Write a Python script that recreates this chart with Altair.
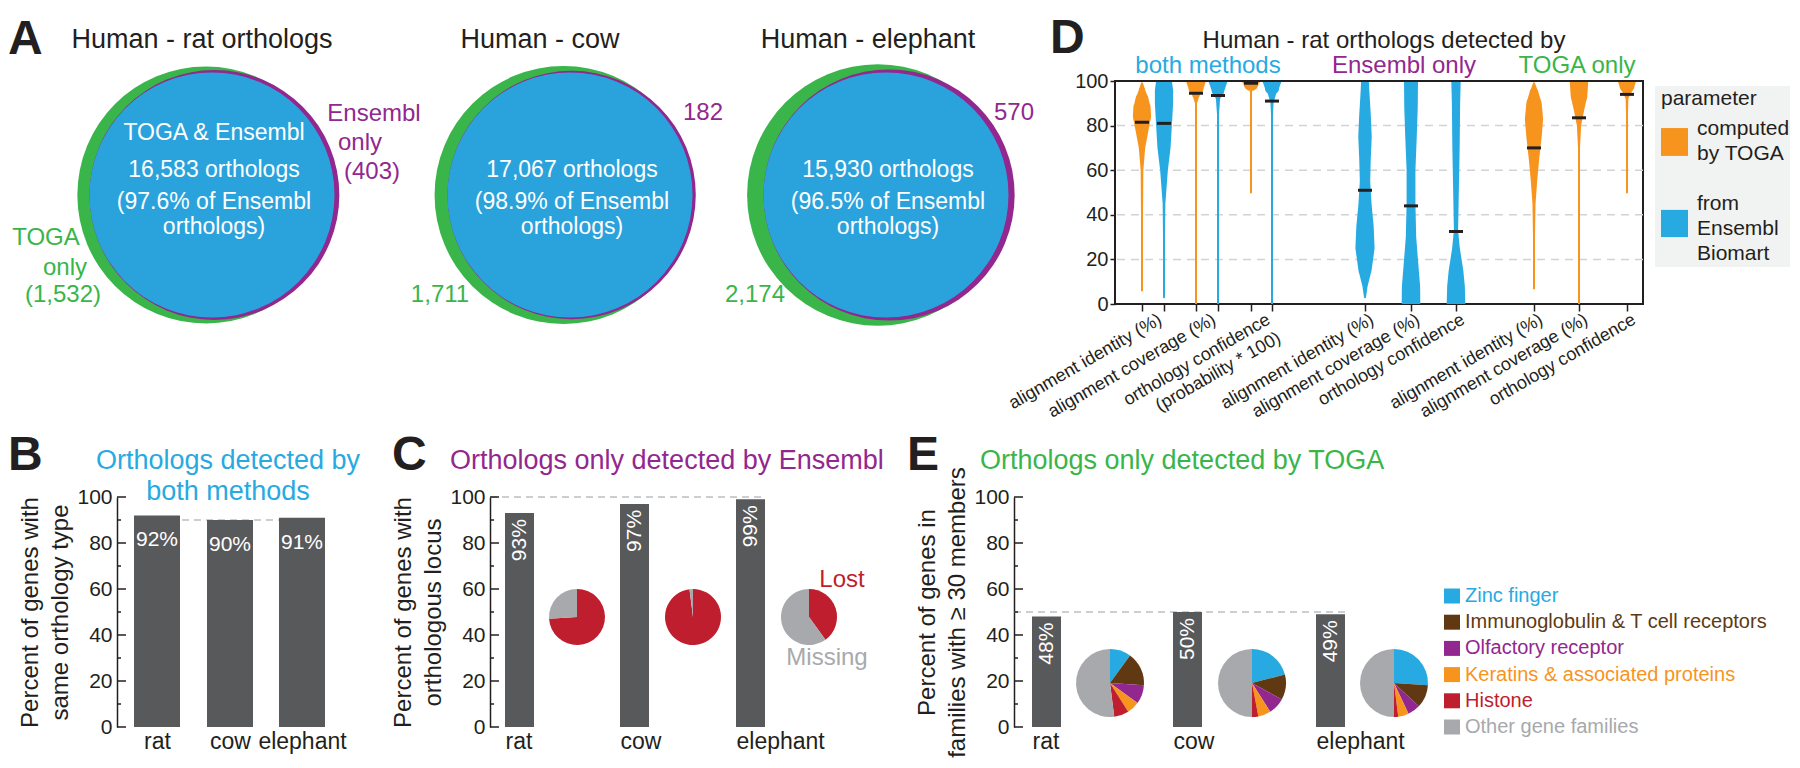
import altair as alt
import numpy as np
import pandas as pd

FONT = "Liberation Sans"
BLACK = "#231F20"
BLUE = "#27AAE1"
VENN_BLUE = "#2AA3DC"
GREEN = "#39B54A"
PURPLE = "#92278F"
ORANGE = "#F7941D"
RED = "#BE1E2D"
GREY = "#A7A9AC"
BAR = "#58595B"
BROWN = "#603913"
DASH = "#BCBEC0"

# ---------------- data ----------------
species = ["rat", "cow", "elephant"]
both_counts = [16583, 17067, 15930]
ensembl_only_counts = [403, 182, 570]
toga_only_counts = [1532, 1711, 2174]
pct_of_ensembl = ["97.6", "98.9", "96.5"]

same_type_pct = [92, 90, 91]
same_type_ref = 90
locus_pct = [93, 97, 99]
locus_ref = 100
lost_pct = [74, 98, 40]
family_pct = [48, 50, 49]
family_ref = 50
families = ["Zinc finger", "Immunoglobulin & T cell receptors", "Olfactory receptor",
            "Keratins & associated proteins", "Histone", "Other gene families"]
family_colors = [BLUE, BROWN, PURPLE, ORANGE, RED, GREY]
family_share_rat = [10, 16, 9, 6, 7, 52]
family_share_cow = [21, 12, 8, 6, 3, 50]
family_share_elephant = [26, 11, 6, 5, 2, 50]

d_sections = ["both methods", "Ensembl only", "TOGA only"]
d_section_colors = [BLUE, PURPLE, GREEN]
d_source = ["TOGA", "Ensembl", "TOGA", "Ensembl", "TOGA", "Ensembl",
            "Ensembl", "Ensembl", "Ensembl", "TOGA", "TOGA", "TOGA"]
d_median = [81.5, 81, 94.5, 93.5, 99, 91, 51, 44, 32.5, 70, 83.5, 94]
violin_y = [
    [6, 40, 60, 70, 78, 84, 88, 92, 96, 99],
    [3, 30, 45, 60, 70, 80, 90, 96, 100],
    [0, 80, 90, 94, 97, 100],
    [0, 85, 92, 96, 100],
    [50, 95, 98, 99, 100],
    [0, 85, 90, 94, 97, 100],
    [3, 8, 15, 25, 35, 45, 55, 65, 75, 85, 95, 100],
    [0, 8, 18, 30, 45, 60, 75, 88, 100],
    [0, 8, 15, 25, 33, 45, 70, 90, 100],
    [7, 30, 45, 55, 65, 75, 83, 90, 95, 99],
    [0, 50, 70, 80, 87, 93, 100],
    [50, 85, 92, 96, 98, 100],
]
violin_w = [
    [.05, .06, .14, .33, .68, .95, .9, .68, .33, .05],
    [.05, .05, .14, .4, .68, .82, .95, .95, .82],
    [.05, .05, .1, .4, .8, 1.05],
    [.05, .06, .22, .68, 1.0],
    [.05, .05, .27, .8, 1.1],
    [.05, .06, .16, .4, .75, 1.0],
    [0, .27, .68, 1.0, .9, .68, .54, .6, .7, .6, .46, .4],
    [.97, .95, .76, .54, .46, .46, .6, .7, .73],
    [.97, .92, .76, .4, .22, .27, .38, .43, .49],
    [.05, .06, .16, .33, .54, .8, .95, .8, .46, .05],
    [.05, .05, .08, .22, .54, .86, .97],
    [.05, .05, .14, .54, .8, .97],
]
d_labels = ["alignment identity (%)", "alignment coverage (%)", "orthology confidence\n(probability * 100)",
            "alignment identity (%)", "alignment coverage (%)", "orthology confidence",
            "alignment identity (%)", "alignment coverage (%)", "orthology confidence"]
d_legend = ["computed\nby TOGA", "from\nEnsembl\nBiomart"]

# ---------------- helpers ----------------
H1 = 223
H2 = 230
LETTER = 48
NOFRAME = alt.ViewBackground(stroke="transparent", strokeWidth=0)


def text_layer(rows, xs, ys, align="center", baseline="middle", weight="normal", angle=0, line_height=None,
               xa=None, ya=None):
    df = pd.DataFrame(rows, columns=["x", "y", "t", "c", "s"])
    kw = dict(font=FONT, align=align, baseline=baseline, fontWeight=weight, angle=angle, lineBreak="\n")
    if line_height:
        kw["lineHeight"] = line_height
    return alt.Chart(df).mark_text(**kw).encode(
        x=alt.X("x:Q", scale=xs, axis=xa),
        y=alt.Y("y:Q", scale=ys, axis=ya),
        text="t:N",
        color=alt.Color("c:N", scale=None),
        size=alt.Size("s:Q", scale=None, legend=None),
    )


def y_axis(title):
    return alt.Axis(values=list(range(0, 101, 20)), tickSize=0, domain=True, domainColor=BLACK,
                    domainWidth=1.5, labelFontSize=21, labelPadding=5, labelColor=BLACK, labelFont=FONT,
                    grid=False, title=title, titleFont=FONT, titleFontSize=24, titleFontWeight="normal",
                    titleColor=BLACK, titlePadding=4, titleLineHeight=30)


def x_axis(values, names, align):
    expr = " : ".join(f"abs(datum.value - {v}) < 0.5 ? '{n}'" for v, n in zip(values, names)) + " : ''"
    return alt.Axis(values=values, labelExpr=expr, domain=False, ticks=False, grid=False, labelFontSize=23,
                    labelFont=FONT, labelColor=BLACK, labelAlign=align, labelBaseline="top", labelPadding=3,
                    labelFlush=False, labelOverlap=False, title=None)


def inner_ticks(xs, ys, xa, ya):
    df = pd.DataFrame({"v": list(range(0, 101, 10))})
    df["x0"] = 0
    df["x1"] = np.where(df["v"] % 20 == 0, 9, 4)
    return alt.Chart(df).mark_rule(color=BLACK, strokeWidth=1.5).encode(
        x=alt.X("x0:Q", scale=xs, axis=xa), x2="x1:Q", y=alt.Y("v:Q", scale=ys, axis=ya))


def up2(px):
    return 100 + px * 100.0 / H2


def v2(page_y):
    # value on the lower-row scales for a page position measured on the reference (plot bottom ~726)
    return (726 - page_y) * 100.0 / H2


# ================= Panel A =================
A_W = 988
A_TOP = 76
A_LEFT = 117
ax = alt.Scale(domain=[0, A_W], nice=False, zero=False)
ay = alt.Scale(domain=[0, H1], nice=False, zero=False)


def a_y(page_y):
    return A_TOP + H1 - page_y


def a_x(page_x):
    return page_x - A_LEFT


venn_x = [a_x(212), a_x(570), a_x(886)]
venn_y = a_y(190)
DB = 245
vrows = []
for i, sp in enumerate(species):
    g = 2 + 120 * toga_only_counts[i] / (toga_only_counts[i] + both_counts[i])
    p = 2 + 120 * ensembl_only_counts[i] / (ensembl_only_counts[i] + both_counts[i])
    vrows += [
        {"z": 0, "x": venn_x[i] - g / 2, "y": venn_y, "d2": (DB + g) ** 2, "c": GREEN},
        {"z": 1, "x": venn_x[i] + p / 2, "y": venn_y, "d2": (DB + p) ** 2, "c": PURPLE},
        {"z": 2, "x": venn_x[i], "y": venn_y, "d2": DB ** 2, "c": VENN_BLUE},
    ]
venn = alt.Chart(pd.DataFrame(vrows)).mark_circle(opacity=1).encode(
    x=alt.X("x:Q", scale=ax, axis=None),
    y=alt.Y("y:Q", scale=ay, axis=None),
    size=alt.Size("d2:Q", scale=None, legend=None),
    color=alt.Color("c:N", scale=None),
    order=alt.Order("z:Q"),
)

inner = []
for i in range(3):
    lines = (["TOGA & Ensembl"] if i == 0 else []) + [
        f"{both_counts[i]:,} orthologs", f"({pct_of_ensembl[i]}% of Ensembl", "orthologs)"]
    pys = [128, 165, 197, 222][-len(lines):]
    for ln, py in zip(lines, pys):
        inner.append((venn_x[i] + 2, a_y(py), ln, "white", 23))

outer = [
    (venn_x[0] + 162, a_y(109), "Ensembl", PURPLE, 24),
    (venn_x[0] + 148, a_y(138), "only", PURPLE, 24),
    (venn_x[0] + 160, a_y(167), f"({ensembl_only_counts[0]:,})", PURPLE, 24),
    (venn_x[0] - 166, a_y(233), "TOGA", GREEN, 24),
    (venn_x[0] - 147, a_y(263), "only", GREEN, 24),
    (venn_x[0] - 149, a_y(290), f"({toga_only_counts[0]:,})", GREEN, 24),
    (venn_x[1] + 133, a_y(108), f"{ensembl_only_counts[1]:,}", PURPLE, 24),
    (venn_x[1] - 130, a_y(290), f"{toga_only_counts[1]:,}", GREEN, 24),
    (venn_x[2] + 128, a_y(108), f"{ensembl_only_counts[2]:,}", PURPLE, 24),
    (venn_x[2] - 131, a_y(290), f"{toga_only_counts[2]:,}", GREEN, 24),
]
a_titles = [(a_x(202), a_y(43), "Human - rat orthologs", BLACK, 27),
            (a_x(540), a_y(43), "Human - cow", BLACK, 27),
            (a_x(868), a_y(43), "Human - elephant", BLACK, 27)]
panel_a = alt.layer(
    venn,
    text_layer(inner, ax, ay),
    text_layer(outer, ax, ay),
    text_layer(a_titles, ax, ay, baseline="alphabetic"),
    text_layer([(a_x(8), a_y(49), "A", BLACK, LETTER)], ax, ay, align="left", baseline="alphabetic",
               weight="bold"),
).properties(width=A_W, height=H1, view=NOFRAME)

# ================= Panel D =================
D_W = 528
d_pos = [27, 49, 81, 103, 136, 157, 250, 296, 341, 419, 464, 512]
dxs = alt.Scale(domain=[0, D_W], nice=False, zero=False)
dys = alt.Scale(domain=[0, 100], nice=False, zero=False)
DX_AXIS = alt.Axis(values=d_pos, labels=False, tickSize=7, tickColor=BLACK, tickWidth=1.5, domain=False,
                   grid=False, title=None)
DY_AXIS = alt.Axis(values=list(range(0, 101, 20)), tickSize=5, tickColor=BLACK, tickWidth=1.5, labelFontSize=20,
                   labelPadding=2, labelColor=BLACK, labelFont=FONT, domain=False, grid=False, title=None)
HW_MAX, HW_MIN = 9.6, 1.0
src_color = {"TOGA": ORANGE, "Ensembl": BLUE}
vio = []
for j in range(12):
    for yv, w in zip(violin_y[j], violin_w[j]):
        vio.append({"vid": j, "c": src_color[d_source[j]], "y": yv, "pos": d_pos[j],
                    "w": 2 * max(HW_MIN, w * HW_MAX)})
vdf = pd.DataFrame(vio)


def d_up(px):
    return 100 + px * 100.0 / H1


grid = alt.Chart(pd.DataFrame({"g": [20, 40, 60, 80]})).mark_rule(
    color="#D1D3D4", strokeWidth=1.5, strokeDash=[8, 6]).encode(y=alt.Y("g:Q", scale=dys, axis=DY_AXIS))
violins = alt.Chart(vdf).mark_trail(clip=True, opacity=1).encode(
    x=alt.X("pos:Q", scale=dxs, axis=DX_AXIS),
    y=alt.Y("y:Q", scale=dys, axis=DY_AXIS),
    size=alt.Size("w:Q", scale=None, legend=None),
    detail="vid:N",
    order=alt.Order("y:Q"),
    color=alt.Color("c:N", scale=None),
)
frame_top = alt.Chart(pd.DataFrame({"f": [100]})).mark_rule(color=BLACK, strokeWidth=2).encode(
    y=alt.Y("f:Q", scale=dys, axis=DY_AXIS))
mdf = pd.DataFrame({"m": d_median, "x0": [p - 7 for p in d_pos], "x1": [p + 7 for p in d_pos]})
medians = alt.Chart(mdf).mark_rule(color=BLACK, strokeWidth=3).encode(
    x=alt.X("x0:Q", scale=dxs, axis=DX_AXIS), x2="x1:Q", y=alt.Y("m:Q", scale=dys, axis=DY_AXIS))
label_anchor = [(d_pos[0] + d_pos[1]) / 2, (d_pos[2] + d_pos[3]) / 2, (d_pos[4] + d_pos[5]) / 2] + d_pos[6:]
d_lab_rows = [(a + 3, -3.1, t, BLACK, 18) for a, t in zip(label_anchor, d_labels)]
sub_x = [93, 289, 462]
d_title_rows = [(269, d_up(33), "Human - rat orthologs detected by", BLACK, 24)] + [
    (sx, d_up(8), s, c, 24) for sx, s, c in zip(sub_x, d_sections, d_section_colors)]
panel_d = alt.layer(
    grid, violins, frame_top, medians,
    text_layer(d_lab_rows, dxs, dys, align="right", baseline="top", angle=330, line_height=21,
               xa=DX_AXIS, ya=DY_AXIS),
    text_layer(d_title_rows, dxs, dys, baseline="alphabetic", xa=DX_AXIS, ya=DY_AXIS),
    text_layer([(-65, d_up(28), "D", BLACK, LETTER)], dxs, dys, align="left", baseline="alphabetic",
               weight="bold", xa=DX_AXIS, ya=DY_AXIS),
).properties(width=D_W, height=H1, view=alt.ViewBackground(stroke=BLACK, strokeWidth=2))

# legend of D
DL_W = 137
dlx = alt.Scale(domain=[0, DL_W], nice=False, zero=False)
box = alt.Chart(pd.DataFrame({"x0": [2], "x1": [DL_W], "y0": [16.6], "y1": [97.8]})).mark_rect(
    color="#F1F2F2").encode(x=alt.X("x0:Q", scale=dlx, axis=None), x2="x1:Q",
                            y=alt.Y("y0:Q", scale=dys, axis=None), y2="y1:Q")
sw = pd.DataFrame({"x0": [8, 8], "x1": [35, 35], "y0": [66.4, 30.0], "y1": [78.9, 42.2], "c": [ORANGE, BLUE]})
swatch = alt.Chart(sw).mark_rect().encode(
    x=alt.X("x0:Q", scale=dlx, axis=None), x2="x1:Q", y=alt.Y("y0:Q", scale=dys, axis=None), y2="y1:Q",
    color=alt.Color("c:N", scale=None))
dl_rows = [(8, 89.2, "parameter", BLACK, 21)]
for lab, y0 in zip(d_legend, [75.8, 42.2]):
    for k, ln in enumerate(lab.split("\n")):
        dl_rows.append((44, y0 - k * 11.2, ln, BLACK, 21))
panel_dl = alt.layer(
    box, swatch, text_layer(dl_rows, dlx, dys, align="left", baseline="alphabetic")
).properties(width=DL_W, height=H1, view=NOFRAME)

# ================= Panel B =================
ys2 = alt.Scale(domain=[0, 100], nice=False, zero=False)
B_W = 373
bxs = alt.Scale(domain=[0, B_W], nice=False, zero=False)
b_left = [17, 90, 162]
B_BW = 46
BX_AXIS = x_axis([l + B_BW / 2 for l in b_left], species, "center")
BY_AXIS = y_axis(["Percent of genes with", "same orthology type"])
bdf = pd.DataFrame({"sp": species, "v": same_type_pct, "x0": b_left,
                    "x1": [l + B_BW for l in b_left], "xc": [l + B_BW / 2 for l in b_left],
                    "lab": [f"{v}%" for v in same_type_pct], "zero": 0})
b_ref = alt.Chart(pd.DataFrame({"x0": [b_left[0]], "x1": [b_left[-1] + B_BW], "y": [same_type_ref]})).mark_rule(
    color=DASH, strokeWidth=1.5, strokeDash=[7, 5]).encode(
    x=alt.X("x0:Q", scale=bxs, axis=BX_AXIS), x2="x1:Q", y=alt.Y("y:Q", scale=ys2, axis=BY_AXIS))
b_bars = alt.Chart(bdf).mark_rect(color=BAR).encode(
    x=alt.X("x0:Q", scale=bxs, axis=BX_AXIS), x2="x1:Q",
    y=alt.Y("v:Q", scale=ys2, axis=BY_AXIS), y2="zero:Q")
b_lab = alt.Chart(bdf).mark_text(font=FONT, color="white", fontSize=21, baseline="top", dy=14).encode(
    x=alt.X("xc:Q", scale=bxs, axis=BX_AXIS), y=alt.Y("v:Q", scale=ys2, axis=BY_AXIS), text="lab:N")
b_title = [(111, up2(28), "Orthologs detected by", BLUE, 27), (111, up2(-3), "both methods", BLUE, 27)]
panel_b = alt.layer(
    b_ref, b_bars, b_lab, inner_ticks(bxs, ys2, BX_AXIS, BY_AXIS),
    text_layer(b_title, bxs, ys2, baseline="alphabetic", xa=BX_AXIS, ya=BY_AXIS),
    text_layer([(-109, up2(27), "B", BLACK, LETTER)], bxs, ys2, align="left", baseline="alphabetic",
               weight="bold", xa=BX_AXIS, ya=BY_AXIS),
).properties(width=B_W, height=H2, view=NOFRAME)

theta_scale = alt.Scale(domain=[0, 1], range=[0, 2 * np.pi])
grad = alt.LinearGradient(gradient="linear", x1=0, x2=1, y1=0, y2=0,
                          stops=[alt.GradientStop(color="#6D6E71", offset=0),
                                 alt.GradientStop(color="#F4F4F4", offset=1)])


# ================= Panels C and E =================
def bar_pie_panel(xs, width, lefts, bw, vals, pie_x, pie_y, radius, up_px, dn_px, pies_df, ref_val,
                  axis_title, letter, letter_x, title_x, title, title_color, extra=None):
    XA = x_axis(lefts, species, "left")
    YA = y_axis(axis_title)
    df = pd.DataFrame({"sp": species, "v": vals, "x0": lefts, "x1": [l + bw for l in lefts],
                       "xc": [l + bw / 2 for l in lefts], "lab": [f"{v}%" for v in vals], "zero": 0})
    wrows = []
    for i, sp in enumerate(species):
        wrows.append({"sp": sp, "x": lefts[i] + bw, "top": vals[i], "bot": 0})
        wrows.append({"sp": sp, "x": pie_x[i] - radius + 3, "top": pie_y + up_px * 100.0 / H2,
                      "bot": pie_y - dn_px * 100.0 / H2})
    wedges = alt.Chart(pd.DataFrame(wrows)).mark_area(color=grad, opacity=1).encode(
        x=alt.X("x:Q", scale=xs, axis=XA), y=alt.Y("top:Q", scale=ys2, axis=YA), y2="bot:Q",
        detail="sp:N", order=alt.Order("x:Q"))
    ref = alt.Chart(pd.DataFrame({"x0": [0], "x1": [lefts[-1] + bw], "y": [ref_val]})).mark_rule(
        color=DASH, strokeWidth=1.5, strokeDash=[7, 5]).encode(
        x=alt.X("x0:Q", scale=xs, axis=XA), x2="x1:Q", y=alt.Y("y:Q", scale=ys2, axis=YA))
    bars = alt.Chart(df).mark_rect(color=BAR).encode(
        x=alt.X("x0:Q", scale=xs, axis=XA), x2="x1:Q",
        y=alt.Y("v:Q", scale=ys2, axis=YA), y2="zero:Q")
    labs = alt.Chart(df).mark_text(font=FONT, color="white", fontSize=21, angle=270, align="right",
                                   baseline="middle", dx=-6).encode(
        x=alt.X("xc:Q", scale=xs, axis=XA), y=alt.Y("v:Q", scale=ys2, axis=YA), text="lab:N")
    pies = alt.Chart(pies_df).mark_arc(radius=radius, opacity=1).encode(
        x=alt.X("x:Q", scale=xs, axis=XA), y=alt.Y("y:Q", scale=ys2, axis=YA),
        theta=alt.Theta("t0:Q", scale=theta_scale), theta2="t1:Q",
        color=alt.Color("c:N", scale=None))
    layers = [ref, wedges, bars, labs, pies, inner_ticks(xs, ys2, XA, YA),
              text_layer([(title_x, up2(28), title, title_color, 27)], xs, ys2, align="left",
                         baseline="alphabetic", xa=XA, ya=YA),
              text_layer([(letter_x, up2(27), letter, BLACK, LETTER)], xs, ys2, align="left",
                         baseline="alphabetic", weight="bold", xa=XA, ya=YA)]
    if extra:
        layers.append(text_layer(extra, xs, ys2, xa=XA, ya=YA))
    return alt.layer(*layers).properties(width=width, height=H2, view=NOFRAME)


# C
C_W = 524
cxs = alt.Scale(domain=[0, C_W], nice=False, zero=False)
c_left = [15, 130, 246]
c_pie_x = [87, 203, 319]
C_PIE_Y = v2(616)
prow = []
for i in range(3):
    f = lost_pct[i] / 100.0
    prow.append({"x": c_pie_x[i], "y": C_PIE_Y, "t0": 0.0, "t1": f, "c": RED})
    prow.append({"x": c_pie_x[i], "y": C_PIE_Y, "t0": f, "t1": 1.0, "c": GREY})
c_ann = [(352, v2(579), "Lost", RED, 24), (337, v2(657), "Missing", GREY, 24)]
panel_c = bar_pie_panel(cxs, C_W, c_left, 29, locus_pct, c_pie_x, C_PIE_Y, 28, 16, 21, pd.DataFrame(prow),
                        locus_ref, ["Percent of genes with", "orthologous locus"],
                        "C", -98, -40, "Orthologs only detected by Ensembl", PURPLE, extra=c_ann)

# E
E_W = 426
exs = alt.Scale(domain=[0, E_W], nice=False, zero=False)
e_left = [18, 159, 302]
e_pie_x = [96, 238, 380]
E_PIE_Y = v2(682)
prow = []
for i, share in enumerate([family_share_rat, family_share_cow, family_share_elephant]):
    tot = float(sum(share))
    cum = 0.0
    for s, col in zip(share, family_colors):
        prow.append({"x": e_pie_x[i], "y": E_PIE_Y, "t0": cum / tot, "t1": (cum + s) / tot, "c": col})
        cum += s
panel_e = bar_pie_panel(exs, E_W, e_left, 29, family_pct, e_pie_x, E_PIE_Y, 34, 32, 28, pd.DataFrame(prow),
                        family_ref, ["Percent of genes in", "families with \u2265 30 members"],
                        "E", -107, -34, "Orthologs only detected by TOGA", GREEN)

# legend of E
EL_W = 348
elx = alt.Scale(domain=[0, EL_W], nice=False, zero=False)
ley = [v2(595 + 26.2 * i) for i in range(len(families))]
half = 7.5 * 100.0 / H2
ldf = pd.DataFrame({"x0": 4, "x1": 20, "y0": [v - half for v in ley], "y1": [v + half for v in ley],
                    "c": family_colors})
el_sq = alt.Chart(ldf).mark_rect().encode(
    x=alt.X("x0:Q", scale=elx, axis=None), x2="x1:Q", y=alt.Y("y0:Q", scale=ys2, axis=None), y2="y1:Q",
    color=alt.Color("c:N", scale=None))
el_rows = [(25, v, f, c, 20) for v, f, c in zip(ley, families, family_colors)]
panel_el = alt.layer(el_sq, text_layer(el_rows, elx, ys2, align="left")).properties(
    width=EL_W, height=H2, view=NOFRAME)

row1 = alt.hconcat(panel_a, panel_d, panel_dl, spacing=10, bounds="flush")
row2 = alt.hconcat(panel_b, panel_c, panel_e, panel_el, spacing=0, bounds="flush")
chart = alt.vconcat(row1, row2, spacing=3).properties(
    padding={"left": 0, "top": 5, "right": 0, "bottom": 0}).configure(
    font=FONT, view=alt.ViewConfig(stroke="transparent"))

chart.save("out.html", embed_options={"renderer": "svg", "actions": False})
